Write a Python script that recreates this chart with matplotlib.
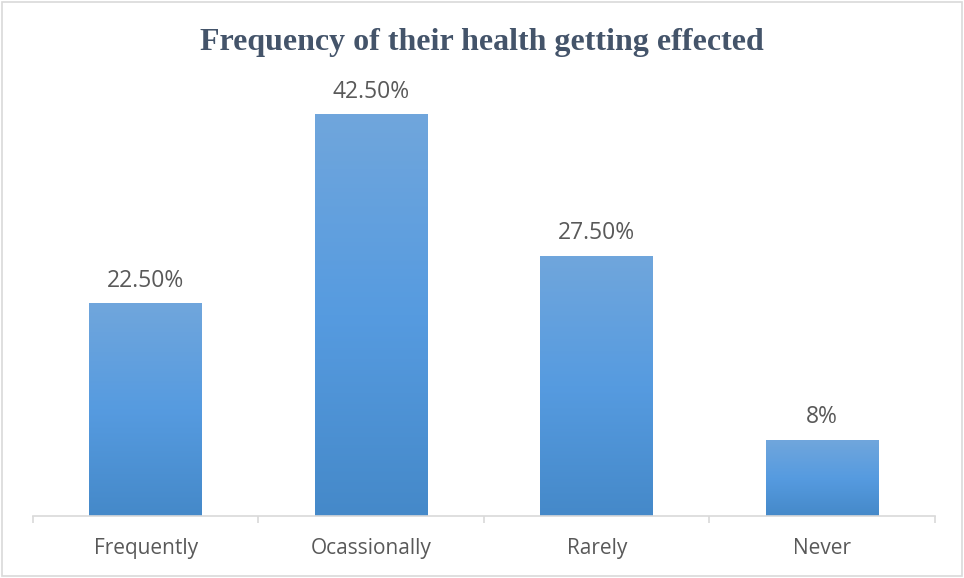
import numpy as np
import matplotlib
matplotlib.use("Agg")
import matplotlib.pyplot as plt
from matplotlib.colors import LinearSegmentedColormap
from matplotlib.patches import Rectangle

categories = ["Frequently", "Ocassionally", "Rarely", "Never"]
values = [22.5, 42.5, 27.5, 8]
value_labels = ["22.50%", "42.50%", "27.50%", "8%"]
title = "Frequency of their health getting effected"

text_color = "#595959"
axis_color = "#d9d9d9"
grad = LinearSegmentedColormap.from_list(
    "bar", ["#4589c9", "#569be0", "#70a6dc"])

fig = plt.figure(figsize=(9.64, 5.78), dpi=100)
ax = fig.add_axes([0.0342, 0.1073, 0.9357, 0.7346])

x = np.arange(len(categories))
bars = ax.bar(x, values, width=0.5, color="none", edgecolor="none")

# vertical gradient inside each bar
g = np.linspace(0, 1, 256).reshape(-1, 1)
for b in bars:
    x0, w, h = b.get_x(), b.get_width(), b.get_height()
    ax.imshow(g, cmap=grad, origin="lower", aspect="auto",
              extent=[x0, x0 + w, 0, h], zorder=2)

for xi, v, lab in zip(x, values, value_labels):
    ax.annotate(lab, (xi, v), xytext=(0, 8), textcoords="offset points",
                ha="center", va="bottom", fontsize=16.5, color=text_color,
                family="Open Sans")

ax.set_xlim(-0.5, len(categories) - 0.5)
ax.set_ylim(0, 45)
ax.set_xticks(x)
ax.set_xticklabels(categories, fontsize=15, color=text_color,
                   family="Open Sans")
ax.set_xticks(np.arange(len(categories) + 1) - 0.5, minor=True)
ax.tick_params(axis="x", which="major", length=0, pad=16)
ax.tick_params(axis="x", which="minor", length=5, width=1.2,
               color=axis_color, direction="out")
ax.set_yticks([])
for s in ["top", "right", "left"]:
    ax.spines[s].set_visible(False)
ax.spines["bottom"].set_color(axis_color)
ax.spines["bottom"].set_linewidth(1.2)

fig.text(0.5, 0.927, title, ha="center", va="center", fontsize=23,
         fontweight="bold", family="Liberation Serif", color="#44546a")

fig.patches.append(Rectangle((0.002, 0.003), 0.996, 0.994,
                             transform=fig.transFigure, fill=False,
                             edgecolor="#d9d9d9", linewidth=1.2))

fig.savefig("out.png", dpi=100)
